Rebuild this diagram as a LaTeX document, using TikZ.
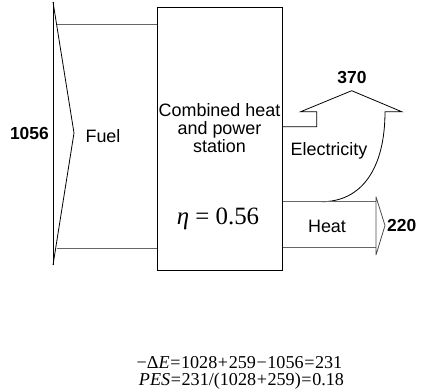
\documentclass[tikz,border=0pt]{standalone}
\usepackage{fontspec}
\setmainfont{Liberation Sans}
\newfontfamily\eqfont{Liberation Serif}
\newcommand{\sk}{\kern0.6bp}
\begin{document}
\begin{tikzpicture}[x=1bp,y=-1bp,
  lbl/.style={inner sep=0pt,font=\fontsize{18}{18.2}\selectfont},
  num/.style={inner sep=0pt,font=\fontsize{17.5}{18}\selectfont\bfseries},
  eq/.style={inner sep=0pt,font=\fontsize{18.2}{19}\selectfont\eqfont},
  edge/.style={line width=0.8bp,black},
  grayedge/.style={line width=1bp,black!60}]
\useasboundingbox (0,0) rectangle (422,392);
% station box
\node[draw,edge,minimum width=125bp,minimum height=263bp,inner sep=0pt,anchor=north west] (box) at (157,7) {};
\node[lbl,align=center] (boxtxt) at (219.5,128) {Combined heat\\and power\\station};
\node[inner sep=0pt,font=\fontsize{25}{27}\selectfont\eqfont] (eta) at (218,219) {\textit{η} = 0.56};
% fuel arrow
\coordinate (ftop) at (53,2);
\coordinate (fbot) at (53,265);
\coordinate (ftip) at (74,133);
\draw[edge] (ftop) -- (fbot);
\draw[edge] (ftop) -- (ftip) -- (fbot);
\draw[grayedge] (56.5,24) -- (box.west |- 0,24);
\draw[grayedge] (56.5,248) -- (box.west |- 0,248);
\node[num,anchor=east] (n1056) at (49,133) {1056};
\node[lbl] (fuel) at (103,136) {Fuel};
% electricity arrow
\draw[edge,line join=miter] (box.east |- 0,126.7) -- (316.7,126.7) -- (316.7,111.7) -- (300.7,111.7)
  -- (351.7,90.7) -- (401.7,111.7) -- (385,111.7)
  .. controls (385,168) and (362,201.7) .. (321.7,201.7);
\node[lbl] (elec) at (329,151) {Electricity};
\node[num] (n370) at (352,78) {370};
% heat arrow
\draw[grayedge] (box.east |- 0,201.7) -- (376,201.7);
\draw[grayedge] (box.east |- 0,247.7) -- (376,247.7);
\draw[edge,black!70] (376,196.7) -- (376,255) (376,196.7) -- (385,225.5) -- (376,255);
\node[lbl] (heat) at (327,226) {Heat};
\node[num,anchor=west] (n220) at (387,225) {220};
% equations
\node[eq] (eq1) at (239.5,363) {−Δ\textit{E}\sk=\sk1028\sk+\sk259\sk−\sk1056\sk=\sk231};
\node[eq] (eq2) at (241.5,381) {\textit{PES}\sk=\sk231/(1028\sk+\sk259)\sk=\sk0.18};
\end{tikzpicture}
\end{document}
